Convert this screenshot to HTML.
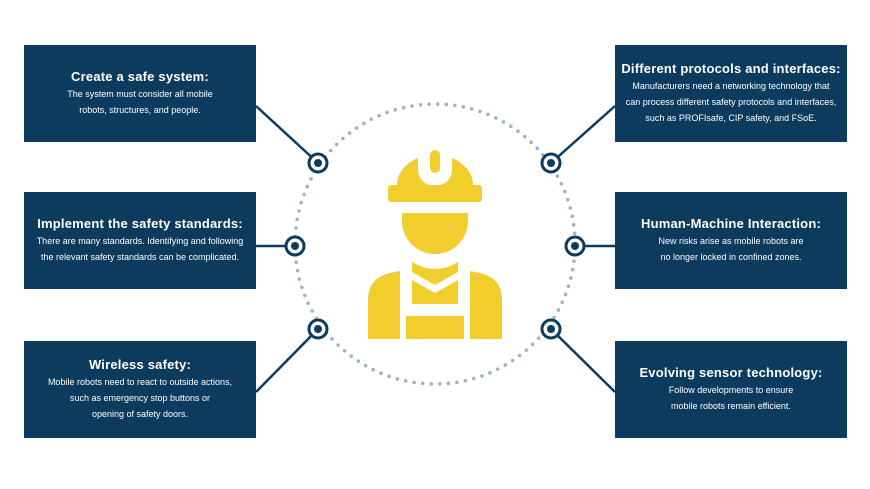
<!DOCTYPE html>
<html><head><meta charset="utf-8"><style>
body{margin:0;width:870px;height:489px;background:#fff;position:relative;overflow:hidden;font-family:"Liberation Sans",sans-serif}
.b{position:absolute;width:232px;height:97px;background:#0d3b5e;color:#fff;display:flex;flex-direction:column;justify-content:center;align-items:center;text-align:center}
.b h{display:block;font-weight:bold;font-size:13px;margin-bottom:2px;letter-spacing:0.2px}
.b p{margin:0;font-size:9px;line-height:16px}
svg{position:absolute;left:0;top:0}
</style></head><body>
<svg width="870" height="489">
<circle cx="435" cy="244" r="140" fill="none" stroke="#9db3c4" stroke-width="3.6" stroke-dasharray="0 8.6" stroke-linecap="round"/>
<g stroke="#0d3b5e" stroke-width="2.5" fill="none">
<line x1="256" y1="106" x2="318" y2="163"/>
<line x1="256" y1="246" x2="295" y2="246"/>
<line x1="256" y1="392" x2="318" y2="329"/>
<line x1="615" y1="106" x2="551" y2="163"/>
<line x1="615" y1="246" x2="575" y2="246"/>
<line x1="615" y1="392" x2="551" y2="329"/>
</g>
<g fill="#fff" stroke="#0d3b5e" stroke-width="3">
<circle cx="318" cy="163" r="9"/><circle cx="295" cy="246" r="9"/><circle cx="318" cy="329" r="9"/>
<circle cx="551" cy="163" r="9"/><circle cx="575" cy="246" r="9"/><circle cx="551" cy="329" r="9"/>
</g>
<g fill="#0d3b5e">
<circle cx="318" cy="163" r="4"/><circle cx="295" cy="246" r="4"/><circle cx="318" cy="329" r="4"/>
<circle cx="551" cy="163" r="4"/><circle cx="575" cy="246" r="4"/><circle cx="551" cy="329" r="4"/>
</g>
<g fill="#f2cd2e">
<path d="M397 185 A38 30 0 0 1 418 158 L418 170 A17 16 0 0 0 452 170 L452 158 A38 30 0 0 1 473 185 Z"/>
<rect x="430" y="150" width="10" height="23" rx="5"/>
<rect x="388" y="185" width="94" height="17" rx="3"/>
<path d="M402 213 L468 213 L468 221 A33 33 0 0 1 402 221 Z"/>
<path d="M412 262 Q435 276 458 262 L458 272 L435 285 L412 272 Z"/>
<path d="M412 280 L435 293 L458 280 L458 304 L412 304 Z"/>
<path d="M400 271 L400 339 L368 339 L368 300 Q368 278 390 273 Z"/>
<path d="M470 271 L470 339 L502 339 L502 300 Q502 278 480 273 Z"/>
<rect x="406" y="316" width="58" height="23"/>
</g>
</svg>
<div class="b" style="left:24px;top:45px"><h>Create a safe system:</h><p>The system must consider all mobile<br>robots, structures, and people.</p></div>
<div class="b" style="left:24px;top:192px"><h>Implement the safety standards:</h><p>There are many standards. Identifying and following<br>the relevant safety standards can be complicated.</p></div>
<div class="b" style="left:24px;top:341px"><h>Wireless safety:</h><p>Mobile robots need to react to outside actions,<br>such as emergency stop buttons or<br>opening of safety doors.</p></div>
<div class="b" style="left:615px;top:45px"><h>Different protocols and interfaces:</h><p>Manufacturers need a networking technology that<br>can process different safety protocols and interfaces,<br>such as PROFIsafe, CIP safety, and FSoE.</p></div>
<div class="b" style="left:615px;top:192px"><h>Human-Machine Interaction:</h><p>New risks arise as mobile robots are<br>no longer locked in confined zones.</p></div>
<div class="b" style="left:615px;top:341px"><h>Evolving sensor technology:</h><p>Follow developments to ensure<br>mobile robots remain efficient.</p></div>
</body></html>
